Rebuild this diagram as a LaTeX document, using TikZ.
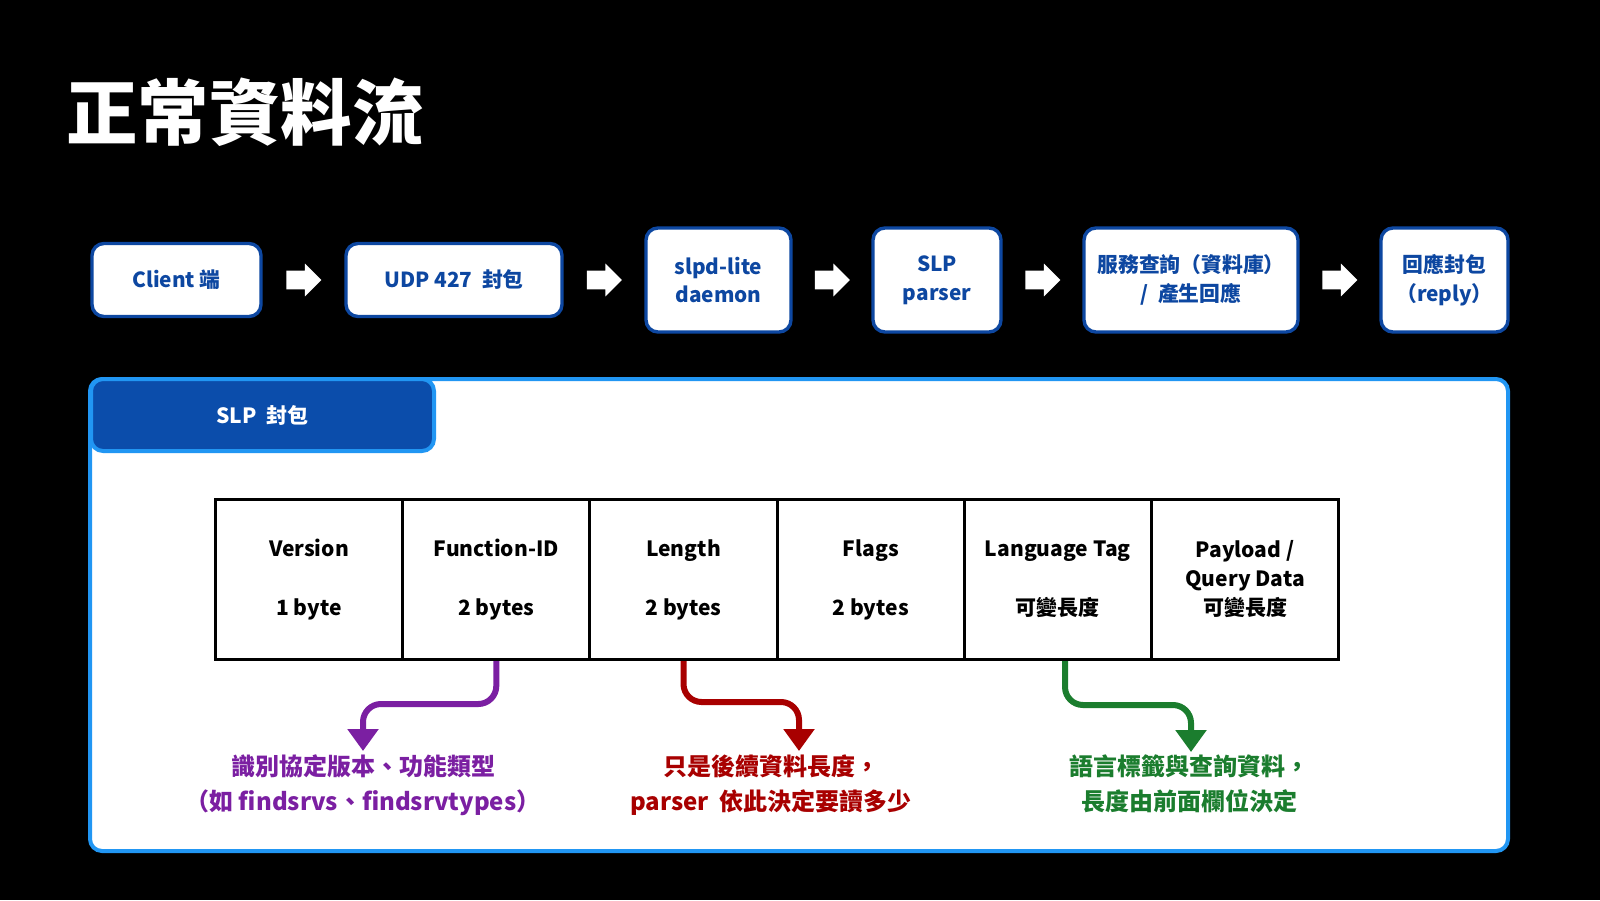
\documentclass[tikz,border=0pt]{standalone}
\usepackage{fontspec}
\setmainfont{Noto Sans CJK TC}
\usetikzlibrary{shapes.arrows,arrows.meta,calc}
\definecolor{dblue}{HTML}{0D47A1}
\definecolor{lblue}{HTML}{2196F3}
\definecolor{tabblue}{HTML}{0B4DAB}
\definecolor{cpurple}{HTML}{7B1FA2}
\definecolor{cred}{HTML}{A80000}
\definecolor{cgreen}{HTML}{1B7D2E}
\begin{document}
\begin{tikzpicture}[x=0.5pt,y=-0.5pt,
  flowbox/.style={draw=dblue, line width=1.7pt, fill=white, rounded corners=6pt, text=dblue,
    font=\bfseries\fontsize{10.4}{14.3}\selectfont, align=center, inner sep=0pt},
  blockarrow/.style={single arrow, fill=white, draw=none, minimum height=17.5pt, minimum width=0pt,
    single arrow head extend=3.5pt, inner sep=4.5pt, xshift=-2.2pt},
  cell/.style={draw=black, line width=1.5pt, minimum width=93.6pt, minimum height=80pt, inner sep=0pt,
    align=center, font=\bfseries\fontsize{10.5}{14.5}\selectfont},
  note/.style={align=center, inner sep=0pt, anchor=north, font=\bfseries\fontsize{12}{17.5}\selectfont},
  conn/.style={line width=3pt, rounded corners=9pt, -{Triangle[width=15pt,length=11pt]}}
]
\useasboundingbox (0,0) rectangle (1600,900);
\fill[black] (0,0) rectangle (1600,900);

% title
\node[anchor=west, inner sep=0pt, text=white, font=\bfseries\fontsize{35.7}{40}\selectfont] (title) at (66,112) {正常資料流};

% flow boxes
\node[flowbox, minimum width=84.5pt, minimum height=36.5pt] (b1) at (176.5,280) {Client 端};
\node[flowbox, minimum width=108pt, minimum height=36.5pt] (b2) at (454,280) {UDP 427\ \ 封包};
\node[flowbox, minimum width=72.5pt, minimum height=52pt] (b3) at (718.5,280) {slpd-lite\\daemon};
\node[flowbox, minimum width=64pt, minimum height=52pt] (b4) at (937,280) {SLP\\parser};
\node[flowbox, minimum width=107pt, minimum height=52pt] (b5) at (1191,280) {服務查詢（資料庫）\\/\ \ 產生回應};
\node[flowbox, minimum width=63.5pt, minimum height=52pt] (b6) at (1444.5,280) {回應封包\\（reply）};

\node[blockarrow] (a1) at ($(b1.east)!0.5!(b2.west)$) {};
\node[blockarrow] (a2) at ($(b2.east)!0.5!(b3.west)$) {};
\node[blockarrow] (a3) at ($(b3.east)!0.5!(b4.west)$) {};
\node[blockarrow] (a4) at ($(b4.east)!0.5!(b5.west)$) {};
\node[blockarrow] (a5) at ($(b5.east)!0.5!(b6.west)$) {};

% panel
\draw[draw=lblue, line width=2pt, fill=white, rounded corners=6pt] (90,379) rectangle (1508,851);
\node[draw=lblue, line width=2pt, fill=tabblue, rounded corners=6pt, minimum width=171.5pt, minimum height=36pt,
  text=white, font=\bfseries\fontsize{10.5}{13}\selectfont, inner sep=0pt] (tab) at (262.5,415) {SLP\ \ 封包};

% table
\node[cell] (ver) at (309,579.5) {Version\\[15pt]1 byte};
\node[cell] (fid) at (496.3,579.5) {Function-ID\\[15pt]2 bytes};
\node[cell] (len) at (683.5,579.5) {Length\\[15pt]2 bytes};
\node[cell] (flg) at (870.7,579.5) {Flags\\[15pt]2 bytes};
\node[cell] (lang) at (1057.9,579.5) {Language Tag\\[15pt]可變長度};
\node[cell] (pay) at (1245.1,579.5) {Payload /\\Query Data\\可變長度};

% notes
\node[note, text=cpurple] (pnote) at (363,754) {識別協定版本、功能類型\\（如 findsrvs、findsrvtypes）};
\node[note, text=cred] (rnote) at (771,754) {只是後續資料長度，\\parser\ \ 依此決定要讀多少};
\node[note, text=cgreen] (gnote) at (1189,754) {語言標籤與查詢資料，\\長度由前面欄位決定};

\coordinate (pturn) at (430,704);
\coordinate (ptip) at (363,751);
\coordinate (rturn) at (740,702);
\coordinate (rtip) at (799,751);
\coordinate (gturn) at (1120,705);
\coordinate (gtip) at (1191,752);

\draw[conn, cpurple] (fid.south) |- (pturn) -| (ptip);
\draw[conn, cred] (len.south) |- (rturn) -| (rtip);
\draw[conn, cgreen] (lang.south -| 1065,0) |- (gturn) -| (gtip);
\end{tikzpicture}
\end{document}
